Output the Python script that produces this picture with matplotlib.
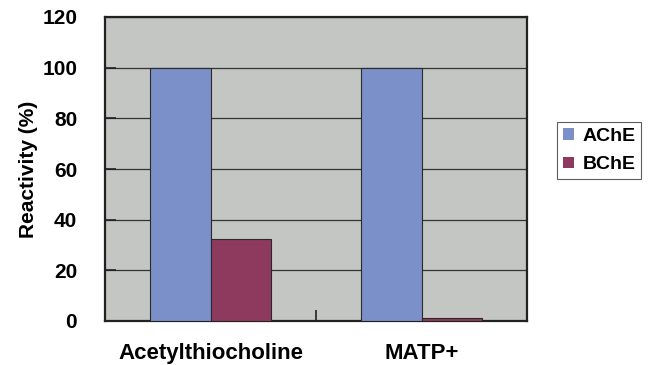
import matplotlib
matplotlib.use("Agg")
import matplotlib.pyplot as plt
import numpy as np

plt.rcParams['font.family'] = ['Liberation Sans', 'DejaVu Sans']

# substrates and enzyme reactivities (%)
substrates = ['Acetylthiocholine', 'MATP+']
enzymes = ['AChE', 'BChE']
ache = [100, 100]
bche = [32.5, 1]
colors = ['#7B8FC8', '#8E3A5E']

fig = plt.figure(figsize=(6.49, 3.65), dpi=100)
ax = fig.add_axes([105/649, 1 - 321/365, 422/649, 304/365])
ax.set_facecolor('#C4C6C3')

x = np.arange(len(substrates))
w = 0.285
for i, (vals, name) in enumerate(zip([ache, bche], enzymes)):
    ax.bar(x + (i - 0.5) * w, vals, w, color=colors[i], edgecolor='#2a2a2a',
           linewidth=0.8, label=name, zorder=3)

ax.set_xlim(-0.5, 1.5)
ax.set_ylim(0, 120)
ax.set_yticks(range(0, 121, 20))
ax.yaxis.grid(True, color='#333333', linewidth=0.9, zorder=0)
ax.set_axisbelow(True)

ax.set_xticks(x)
ax.set_xticklabels(substrates, fontsize=16, fontweight='bold')
ax.tick_params(axis='x', length=0, pad=16)
# category separators
ax.set_xticks([0.5, 1.5], minor=True)
ax.tick_params(axis='x', which='minor', direction='in', length=8, width=1.2, color='#222222')
ax.tick_params(axis='y', direction='in', length=8, width=1.2, color='#222222', pad=20,
               labelsize=15)
for lab in ax.get_yticklabels():
    lab.set_fontweight('bold')

for s in ax.spines.values():
    s.set_linewidth(1.6)
    s.set_color('#222222')

ax.set_ylabel('Reactivity (%)', fontsize=15, fontweight='bold', labelpad=3)

leg = fig.legend(loc='upper left', bbox_to_anchor=(557/649, 1 - 122/365),
                 borderaxespad=0, prop={'weight': 'bold', 'size': 14},
                 frameon=True, fancybox=False,
                 handlelength=0.55, handleheight=0.55, handletextpad=0.45,
                 borderpad=0.3, labelspacing=0.6)
leg.get_frame().set_edgecolor('#333333')
leg.get_frame().set_linewidth(0.8)
for p in leg.get_patches():
    p.set_edgecolor('none')

fig.savefig('out.png', dpi=100)
